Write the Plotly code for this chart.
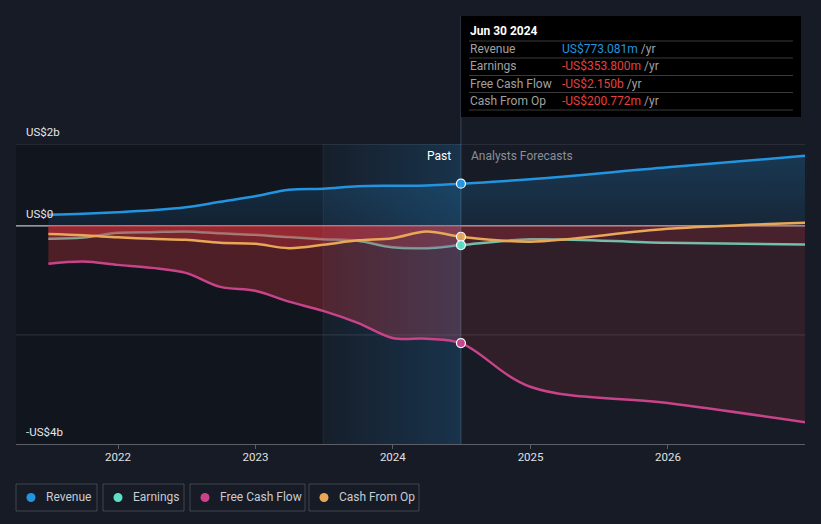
import plotly.graph_objects as go
import pandas as pd

# ---------------- data (US$ billions) ----------------
past_dates = ["2021-06-30", "2021-09-30", "2021-12-31", "2022-03-31", "2022-06-30",
              "2022-09-30", "2022-12-31", "2023-03-31", "2023-06-30", "2023-09-30",
              "2023-12-31", "2024-03-31", "2024-06-30"]
forecast_dates = ["2024-12-31", "2025-12-31", "2026-12-31"]
dates = past_dates + forecast_dates

revenue = [0.202, 0.220, 0.248, 0.284, 0.339, 0.440, 0.541, 0.661, 0.679, 0.725, 0.734, 0.738, 0.773,
           0.853, 1.073, 1.284]
earnings = [-0.239, -0.215, -0.128, -0.116, -0.105, -0.138, -0.165, -0.207, -0.244, -0.275, -0.394, -0.409, -0.3538,
            -0.248, -0.312, -0.343]
fcf = [-0.697, -0.655, -0.716, -0.771, -0.862, -1.12, -1.19, -1.39, -1.56, -1.78, -2.055, -2.07, -2.150,
       -2.95, -3.25, -3.60]
cfo = [-0.152, -0.174, -0.211, -0.239, -0.257, -0.312, -0.330, -0.409, -0.349, -0.266, -0.226, -0.105, -0.2008,
       -0.29, -0.055, 0.055]

series_names = ["Revenue", "Earnings", "Free Cash Flow", "Cash From Op"]
series_colors = ["#2394df", "#5ee0c8", "#c9438a", "#e8a857"]
tick_years = ["2022", "2023", "2024", "2025", "2026"]
y_labels = ["US$2b", "US$0", "-US$4b"]
tooltip_date = "Jun 30 2024"
tooltip_values = ["US$773.081m", "-US$353.800m", "-US$2.150b", "-US$200.772m"]

now_date = "2024-06-30"
past_start = "2023-06-30"
x_range = ["2021-04-05", "2026-12-31"]
y_range = [-4, 1.5]

BG = "#161b26"
RED_TXT = "#e5403f"

# ---------------- helpers (screen pixel -> paper) ----------------
FIG_W, FIG_H = 821, 524
L, R, T, B = 16, 805, 144, 444
def PX(x):
    return (x - L) / (R - L)
def PY(y):
    return (B - y) / (B - T)

# fraction of data span at the "now" split
d = pd.to_datetime(dates)
frac = (pd.Timestamp(now_date) - d[0]) / (d[-1] - d[0])

past_red = "rgba(210,50,58,0.32)"
fore_red = "rgba(210,50,58,0.14)"
red_scale = [[0, past_red], [frac, past_red], [frac, fore_red], [1, fore_red]]

fig = go.Figure()

# revenue fill
fig.add_trace(go.Scatter(
    x=dates, y=revenue, mode="lines", line=dict(width=0, shape="spline"),
    fill="tozeroy",
    fillgradient=dict(type="vertical", start=0, stop=1.3,
                      colorscale=[[0, "rgba(35,148,223,0.10)"], [1, "rgba(35,148,223,0.24)"]]),
    hoverinfo="skip", showlegend=False))

# earnings line (under the red fills)
fig.add_trace(go.Scatter(
    x=dates, y=earnings, mode="lines", line=dict(width=2.5, color=series_colors[1], shape="spline"),
    hoverinfo="skip", showlegend=False))

# red fills
for ser in (earnings, cfo, fcf):
    fig.add_trace(go.Scatter(
        x=dates, y=ser, mode="lines", line=dict(width=0, shape="spline"),
        fill="tozeroy",
        fillgradient=dict(type="horizontal", colorscale=red_scale),
        hoverinfo="skip", showlegend=False))

# past-year highlight
fig.add_trace(go.Scatter(
    x=[past_start, now_date, now_date, past_start, past_start],
    y=[y_range[1], y_range[1], y_range[0], y_range[0], y_range[1]],
    mode="lines", line=dict(width=0), fill="toself",
    fillgradient=dict(type="horizontal",
                      colorscale=[[0, "rgba(35,148,223,0.03)"], [1, "rgba(35,148,223,0.20)"]]),
    hoverinfo="skip", showlegend=False))

# lines on top
for ser, col in ((revenue, series_colors[0]), (fcf, series_colors[2]), (cfo, series_colors[3])):
    fig.add_trace(go.Scatter(
        x=dates, y=ser, mode="lines", line=dict(width=2.5, color=col, shape="spline"),
        hoverinfo="skip", showlegend=False))

# markers at now
idx = past_dates.index(now_date)
for ser, col in ((revenue, series_colors[0]), (fcf, series_colors[2]),
                 (cfo, series_colors[3]), (earnings, series_colors[1])):
    fig.add_trace(go.Scatter(
        x=[now_date], y=[ser[idx]], mode="markers",
        marker=dict(size=9, color=col, line=dict(color="white", width=1.2)),
        hoverinfo="skip", showlegend=False))

shapes = []
# darker past region
shapes.append(dict(type="rect", xref="x", yref="paper", x0=x_range[0], x1=past_start, y0=0, y1=1,
                   fillcolor="rgba(0,0,0,0.2)", line=dict(width=0), layer="below"))
# gridlines
for yv, col in ((1.5, "rgba(255,255,255,0.17)"), (-2, "rgba(255,255,255,0.13)")):
    shapes.append(dict(type="line", xref="paper", yref="y", x0=0, x1=1, y0=yv, y1=yv,
                       line=dict(color=col, width=1), layer="below"))
shapes.append(dict(type="line", xref="paper", yref="y", x0=0, x1=1, y0=0, y1=0,
                   line=dict(color="rgba(235,240,245,0.8)", width=1.2), layer="below"))
# vertical lines
shapes.append(dict(type="line", xref="x", yref="paper", x0=past_start, x1=past_start, y0=0, y1=1,
                   line=dict(color="rgba(120,160,200,0.12)", width=1), layer="above"))
shapes.append(dict(type="line", xref="x", yref="paper", x0=now_date, x1=now_date, y0=0, y1=PY(16),
                   line=dict(color="rgba(120,150,180,0.35)", width=1), layer="above"))

# tooltip box
shapes.append(dict(type="rect", xref="paper", yref="paper", x0=PX(461), x1=PX(801), y0=PY(117), y1=PY(16),
                   fillcolor="#000000", line=dict(width=0), layer="above"))
for yy in (41, 58, 75.5, 92.5, 110):
    shapes.append(dict(type="line", xref="paper", yref="paper", x0=PX(469), x1=PX(793), y0=PY(yy), y1=PY(yy),
                       line=dict(color="#3a3a3a", width=1), layer="above"))

annotations = []
FONT = "Roboto, 'Noto Sans', Arial, sans-serif"
annotations.append(dict(text="<b>" + tooltip_date + "</b>", xref="paper", yref="paper", x=PX(468), y=PY(31),
                        xanchor="left", yanchor="middle", showarrow=False,
                        font=dict(color="#ffffff", size=12, family=FONT)))
row_y = [49, 66, 84, 101]
for i, (nm, val) in enumerate(zip(series_names, tooltip_values)):
    vcol = series_colors[0] if i == 0 else RED_TXT
    annotations.append(dict(text=nm, xref="paper", yref="paper", x=PX(468), y=PY(row_y[i]),
                            xanchor="left", yanchor="middle", showarrow=False,
                            font=dict(color="#a0a0a0", size=12, family=FONT)))
    annotations.append(dict(text="<span style='color:%s'>%s</span> /yr" % (vcol, val),
                            xref="paper", yref="paper", x=PX(560), y=PY(row_y[i]),
                            xanchor="left", yanchor="middle", showarrow=False,
                            font=dict(color="#a0a0a0", size=12, family=FONT)))

# past / forecast labels
annotations.append(dict(text="Past", xref="paper", yref="paper", x=PX(453), y=PY(156),
                        xanchor="right", yanchor="middle", showarrow=False,
                        font=dict(color="#ffffff", size=12, family=FONT)))
annotations.append(dict(text="Analysts Forecasts", xref="paper", yref="paper", x=PX(469), y=PY(156),
                        xanchor="left", yanchor="middle", showarrow=False,
                        font=dict(color="#8a8f98", size=12, family=FONT)))

# y labels
for lab, yy in zip(y_labels, (132, 214, 432)):
    annotations.append(dict(text=lab, xref="paper", yref="paper", x=PX(24), y=PY(yy),
                            xanchor="left", yanchor="middle", showarrow=False,
                            font=dict(color="#e6e6e6", size=11.5, family=FONT)))

# legend
boxes = [(16, 97), (103, 184), (190, 305), (309, 419)]
for (x0, x1), nm, col in zip(boxes, series_names, series_colors):
    shapes.append(dict(type="rect", xref="paper", yref="paper", x0=PX(x0), x1=PX(x1), y0=PY(511), y1=PY(484),
                       line=dict(color="rgba(255,255,255,0.18)", width=1), fillcolor="rgba(0,0,0,0)"))
    cx = x0 + 15
    shapes.append(dict(type="circle", xref="paper", yref="paper", x0=PX(cx - 4.5), x1=PX(cx + 4.5),
                       y0=PY(497.5 + 4.5), y1=PY(497.5 - 4.5), fillcolor=col, line=dict(width=0)))
    annotations.append(dict(text=nm, xref="paper", yref="paper", x=PX(x0 + 28), y=PY(497.5),
                            xanchor="left", yanchor="middle", showarrow=False,
                            font=dict(color="#c8cbd0", size=12, family=FONT)))

fig.update_layout(
    width=FIG_W, height=FIG_H,
    margin=dict(l=L, r=FIG_W - R, t=T, b=FIG_H - B),
    paper_bgcolor=BG, plot_bgcolor=BG,
    font=dict(family=FONT, color="#e0e0e0"),
    showlegend=False,
    hovermode=False,
    shapes=shapes, annotations=annotations,
    xaxis=dict(type="date", range=x_range, showgrid=False, zeroline=False,
               tickvals=[y + "-01-01" for y in tick_years], ticktext=tick_years,
               ticks="outside", ticklen=4, tickcolor="rgba(255,255,255,0.3)", tickwidth=1,
               ticklabelstandoff=-2,
               showline=True, linecolor="rgba(255,255,255,0.3)", linewidth=1,
               tickfont=dict(color="#e0e0e0", size=11.5, family=FONT)),
    yaxis=dict(range=y_range, showgrid=False, zeroline=False, showticklabels=False, ticks=""),
)

fig.write_html(
    "out.html",
    config={"displayModeBar": False},
    post_script="document.body.style.margin='0';document.body.style.background='%s';"
                "document.documentElement.style.background='%s';" % (BG, BG),
)
